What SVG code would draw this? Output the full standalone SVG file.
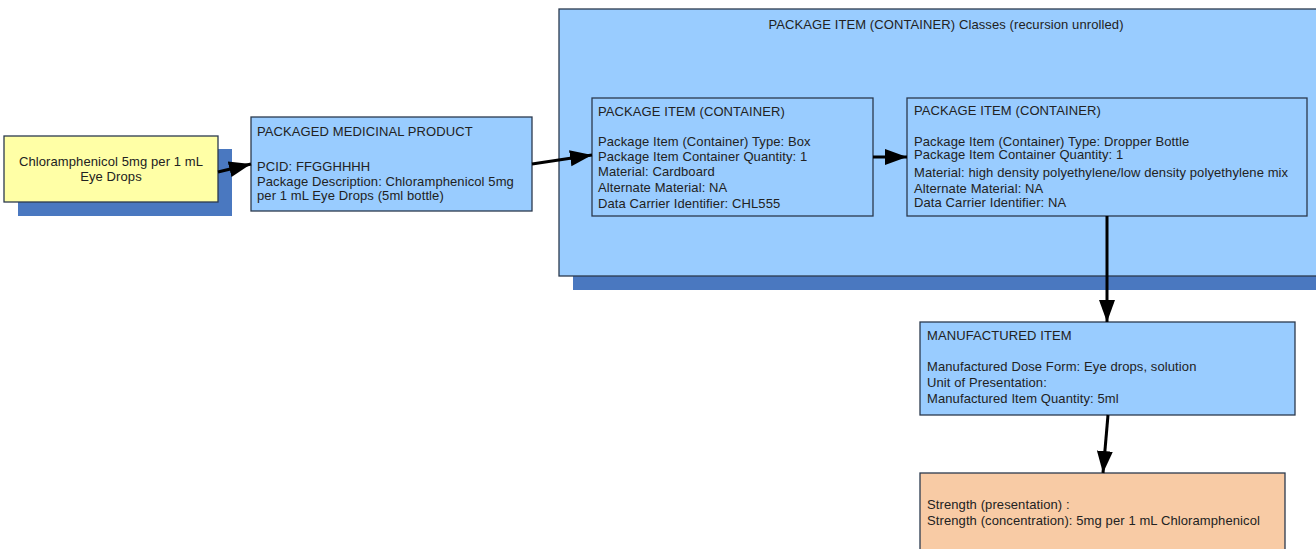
<svg xmlns="http://www.w3.org/2000/svg" width="1316" height="549" viewBox="0 0 1316 549">
<style>
.box{fill:#99ccff;stroke:#2b3a4e;stroke-width:1.3}
.shadow{fill:#4a78c0}
.t{font-family:"Liberation Sans",Arial,sans-serif;font-size:13px;letter-spacing:0.1px;fill:#222}
.c{stroke:#000;stroke-width:3;fill:none;marker-end:url(#ah)}
</style>
<defs>
<marker id="ah" markerUnits="userSpaceOnUse" viewBox="0 0 22 20" refX="22" refY="10" markerWidth="22" markerHeight="20" orient="auto">
<path d="M0,2 L22,10 L0,18 Z" fill="#000"/>
</marker>
</defs>
<rect width="1316" height="549" fill="#fff"/>
<g id="container">
<rect class="shadow" x="573" y="23" width="760" height="267"/>
<rect class="box" x="559" y="9" width="760" height="267"/>
<text class="t" x="946" y="29" text-anchor="middle">PACKAGE ITEM (CONTAINER) Classes (recursion unrolled)</text>
</g>
<g id="product">
<rect class="shadow" x="18" y="149" width="214" height="67"/>
<rect x="4" y="136" width="214" height="66" fill="#ffffa6" stroke="#2b3a4e" stroke-width="1.3"/>
<text class="t" x="111" y="166" text-anchor="middle">Chloramphenicol 5mg per 1 mL</text>
<text class="t" x="111" y="181" text-anchor="middle">Eye Drops</text>
</g>
<g id="pmp">
<rect class="box" x="251" y="117" width="281" height="94"/>
<text class="t" x="257" y="136">PACKAGED MEDICINAL PRODUCT</text>
<text class="t" x="257" y="171">PCID: FFGGHHHH</text>
<text class="t" x="257" y="186">Package Description: Chloramphenicol 5mg</text>
<text class="t" x="257" y="200">per 1 mL Eye Drops (5ml bottle)</text>
</g>
<g id="item1">
<rect class="box" x="592" y="98" width="281" height="118"/>
<text class="t" x="598" y="116">PACKAGE ITEM (CONTAINER)</text>
<text class="t" x="598" y="146">Package Item (Container) Type: Box</text>
<text class="t" x="598" y="161">Package Item Container Quantity: 1</text>
<text class="t" x="598" y="176">Material: Cardboard</text>
<text class="t" x="598" y="192">Alternate Material: NA</text>
<text class="t" x="598" y="208">Data Carrier Identifier: CHL555</text>
</g>
<g id="item2">
<rect class="box" x="907" y="98" width="400" height="118"/>
<text class="t" x="914" y="115">PACKAGE ITEM (CONTAINER)</text>
<text class="t" x="914" y="146">Package Item (Container) Type: Dropper Bottle</text>
<text class="t" x="914" y="159">Package Item Container Quantity: 1</text>
<text class="t" x="914" y="177">Material: high density polyethylene/low density polyethylene mix</text>
<text class="t" x="914" y="193">Alternate Material: NA</text>
<text class="t" x="914" y="207">Data Carrier Identifier: NA</text>
</g>
<g id="manufactured">
<rect class="box" x="920" y="322" width="375" height="93"/>
<text class="t" x="927" y="340">MANUFACTURED ITEM</text>
<text class="t" x="927" y="371">Manufactured Dose Form: Eye drops, solution</text>
<text class="t" x="927" y="387">Unit of Presentation:</text>
<text class="t" x="927" y="403">Manufactured Item Quantity: 5ml</text>
</g>
<g id="strength">
<rect x="920" y="473" width="365" height="90" fill="#f8cba5" stroke="#2b3a4e" stroke-width="1.3"/>
<text class="t" x="927" y="509">Strength (presentation) :</text>
<text class="t" x="927" y="525">Strength (concentration): 5mg per 1 mL Chloramphenicol</text>
</g>
<g id="connectors">
<path class="c" d="M218,172 L251,164"/>
<path class="c" d="M532,164 L592,155"/>
<path class="c" d="M873,157 L907,157"/>
<path class="c" d="M1107,216 L1107,322"/>
<path class="c" d="M1108,415 L1103,473"/>
</g>
</svg>
